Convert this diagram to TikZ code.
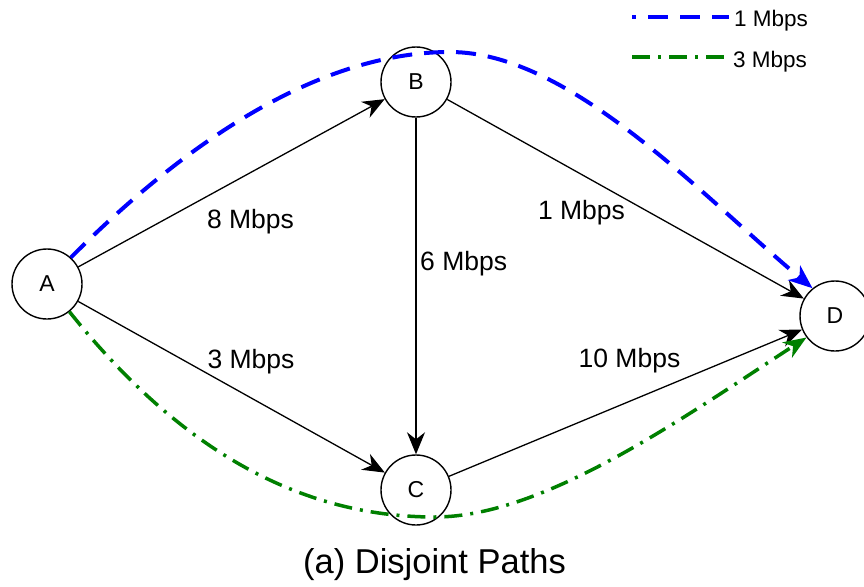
\documentclass[tikz,border=0pt]{standalone}
\usepackage{fontspec}
\setmainfont{Liberation Sans}
\usetikzlibrary{arrows.meta}
\definecolor{pathblue}{RGB}{0,0,255}
\definecolor{pathgreen}{RGB}{0,128,0}
\tikzset{
  vertex/.style={circle,draw,line width=1.4pt,minimum size=70pt,inner sep=0pt,font=\fontsize{23}{25}\selectfont},
  link/.style={line width=1.3pt,-{Stealth[length=22pt,width=18pt,inset=7pt]}},
  lbl/.style={anchor=base,inner sep=0pt,font=\fontsize{26.5}{28}\selectfont},
  legtxt/.style={anchor=base west,inner sep=0pt,font=\fontsize{22.5}{24}\selectfont},
  bluepath/.style={draw=pathblue,line width=4pt,dash pattern=on 20pt off 12pt},
  greenpath/.style={draw=pathgreen,line width=3.5pt,dash pattern=on 18pt off 8pt on 3pt off 8pt},
  bluetip/.style={-{Stealth[length=24pt,width=19pt,inset=7pt]}},
  greentip/.style={-{Stealth[length=23pt,width=18pt,inset=7pt]}}
}
\begin{document}
\begin{tikzpicture}[x=1pt,y=-1pt]
\useasboundingbox (0,0) rectangle (864,586);
% nodes
\node[vertex] (A) at (47,284) {A};
\node[vertex] (B) at (416,82) {B};
\node[vertex] (C) at (416,490) {C};
\node[vertex] (D) at (835,316) {D};
% edges
\draw[link] (A) -- (B);
\draw[link] (A) -- (C);
\draw[link] (B) -- (C);
\draw[link] (B) -- (D);
\draw[link] (C) -- (D);
% labels
\node[lbl] (l8) at (250.5,228) {8 Mbps};
\node[lbl] (l3) at (251,368) {3 Mbps};
\node[lbl,anchor=base west] (l6) at (420,270) {6 Mbps};
\node[lbl] (l1) at (581.5,219) {1 Mbps};
\node[lbl] (l10) at (629.5,367) {10 Mbps};
% disjoint paths
\coordinate (topB) at (450,52);
\coordinate (botC) at (435,517);
\draw[bluepath,bluetip] (A.48) .. controls (200,128) and (330,52) .. (topB)
   .. controls (570,52) and (702,196) .. (D.129);
\draw[greenpath,greentip] (A.-51) .. controls (180,450) and (300,517) .. (botC)
   .. controls (545,517) and (687,415) .. (D.217);
% legend
\coordinate (lb1) at (632,17);
\coordinate (lb2) at (729,17);
\coordinate (lg1) at (632,57);
\coordinate (lg2) at (729,57);
\draw[bluepath,dash phase=16pt] (lb1) -- (lb2);
\draw[greenpath] (lg1) -- (lg2);
\node[legtxt] (t1) at (734,27) {1 Mbps};
\node[legtxt] (t3) at (733,67) {3 Mbps};
% caption
\node[anchor=base,inner sep=0pt,font=\fontsize{34.5}{36}\selectfont] (cap) at (434.5,573) {(a) Disjoint Paths};
\end{tikzpicture}
\end{document}
